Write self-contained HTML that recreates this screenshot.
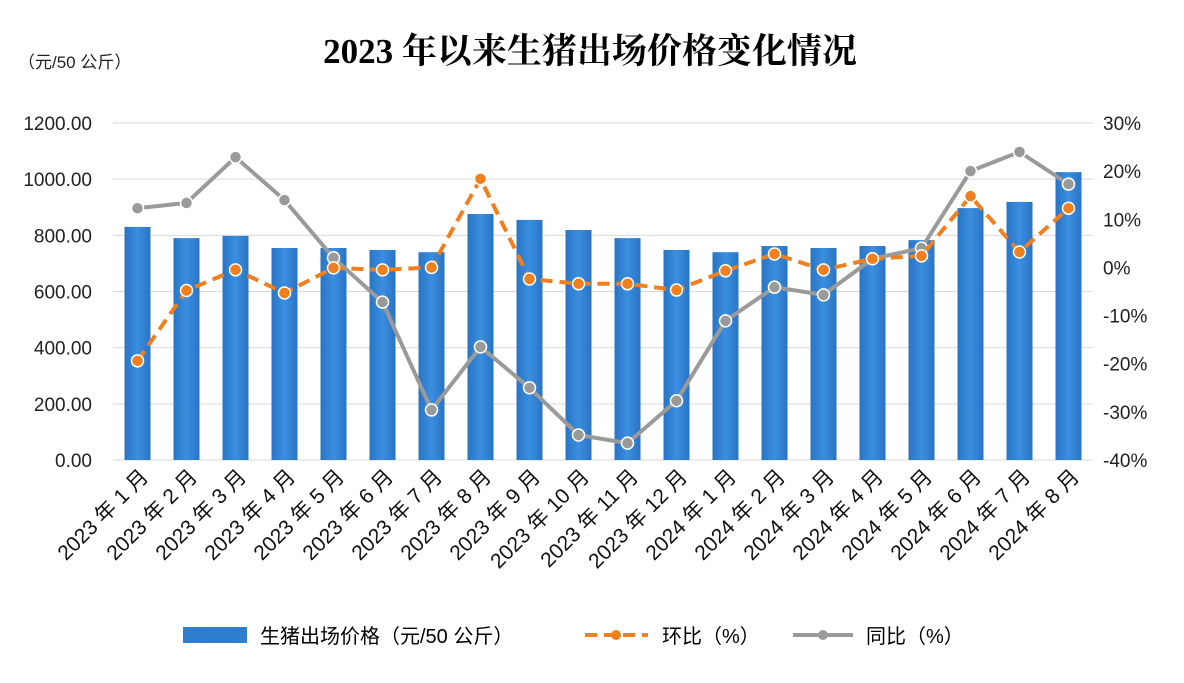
<!DOCTYPE html>
<html><head><meta charset="utf-8"><style>
body{margin:0;background:#fff;}
svg text{font-family:"Liberation Sans","Noto Sans CJK SC",sans-serif;}
</style></head><body>
<svg id="c" width="1184" height="678" xmlns="http://www.w3.org/2000/svg">
<defs><linearGradient id="bg" x1="0" x2="1" y1="0" y2="0"><stop offset="0" stop-color="#2a74c4"/><stop offset="0.5" stop-color="#3a8ee0"/><stop offset="1" stop-color="#2a74c4"/></linearGradient></defs>
<rect width="1184" height="678" fill="#fff"/>
<text x="590" y="63" text-anchor="middle" font-size="35" font-weight="bold" style="font-family:'Liberation Serif','Noto Serif CJK SC',serif">2023 年以来生猪出场价格变化情况</text>
<text x="18" y="68" font-size="17" fill="#222">（元/50 公斤）</text>
<g id="grid"></g><g id="bars"></g><g id="lines"></g><g id="axes"></g>
<g>
<rect x="183" y="627" width="64" height="16" fill="#2f7fd0"/>
<text x="260" y="643" font-size="20">生猪出场价格（元/50 公斤）</text>
<line x1="585" y1="635" x2="648" y2="635" stroke="#f07f1e" stroke-width="4" stroke-dasharray="12,7"/>
<circle cx="616" cy="635" r="5" fill="#f07f1e"/>
<text x="662" y="643" font-size="20">环比（%）</text>
<line x1="793" y1="635" x2="853" y2="635" stroke="#9a9a9a" stroke-width="4"/>
<circle cx="823" cy="635" r="5" fill="#9a9a9a"/>
<text x="866" y="643" font-size="20">同比（%）</text>
</g>
</svg>
<script>
const categories=["2023 年 1 月","2023 年 2 月","2023 年 3 月","2023 年 4 月","2023 年 5 月","2023 年 6 月","2023 年 7 月","2023 年 8 月","2023 年 9 月","2023 年 10 月","2023 年 11 月","2023 年 12 月","2024 年 1 月","2024 年 2 月","2024 年 3 月","2024 年 4 月","2024 年 5 月","2024 年 6 月","2024 年 7 月","2024 年 8 月"];
const priceValues=[830,790,798,755,755,748,740,876,855,819,790,748,740,762,755,762,783,897,919,1025];
const momValues=[-19.4,-4.8,-0.5,-5.3,-0.1,-0.5,0,18.4,-2.4,-3.4,-3.4,-4.7,-0.7,2.8,-0.5,1.8,2.4,14.8,3.2,12.3];
const yoyValues=[12.3,13.4,22.9,14,2,-7.2,-29.6,-16.5,-25,-34.8,-36.5,-27.7,-11.1,-4.1,-5.7,1.8,4,20,24,17.3];
const leftTicks=[0,200,400,600,800,1000,1200];
const rightTicks=[-40,-30,-20,-10,0,10,20,30];
const NS="http://www.w3.org/2000/svg";
const X0=113,X1=1093,Y0=460,Y1=123;
const step=(X1-X0)/categories.length;
const xPos=i=>X0+step*(i+0.5);
const yL=v=>Y0-(v/1200)*(Y0-Y1);
const yR=v=>Y0-((v+40)/70)*(Y0-Y1);
function mk(t,a,p){const e=document.createElementNS(NS,t);for(const k in a)e.setAttribute(k,a[k]);p.appendChild(e);return e;}
const grid=document.getElementById('grid'),bars=document.getElementById('bars'),lines=document.getElementById('lines'),axes=document.getElementById('axes');
leftTicks.forEach(v=>{
 const l=mk('line',{x1:X0,x2:X1,y1:yL(v),y2:yL(v),stroke:'#d9d9d9','stroke-width':1},grid);
 
 
 const t=mk('text',{x:92,y:yL(v)+7,'text-anchor':'end','font-size':19,fill:'#222'},axes);
 t.textContent=v.toFixed(2);
 
 
});
rightTicks.forEach(v=>{
 const t=mk('text',{x:1103,y:yR(v)+7,'font-size':19,fill:'#222'},axes);
 t.textContent=v+'%';
 
 
});
priceValues.forEach((v,i)=>{
 const r=mk('rect',{x:xPos(i)-13,y:yL(v),width:26,height:Y0-yL(v),fill:'url(#bg)'},bars);
 
 
});
categories.forEach((c,i)=>{
 const t=mk('text',{x:0,y:0,'text-anchor':'end','font-size':21,fill:'#111',transform:`translate(${xPos(i)+12},${478}) rotate(-45)`},axes);
 t.textContent=c;
 
 
});
function series(vals,color,dash,name){
 const pts=vals.map((v,i)=>xPos(i)+','+yR(v)).join(' ');
 const p=mk('polyline',{points:pts,fill:'none',stroke:color,'stroke-width':4,'stroke-linejoin':'round'},lines);
 if(dash)p.setAttribute('stroke-dasharray',dash);
 
 
 vals.forEach((v,i)=>{
  const c=mk('circle',{cx:xPos(i),cy:yR(v),r:6,fill:color,stroke:'#fff','stroke-width':1.5},lines);
  
  
 });
}
series(yoyValues,'#9a9a9a',null,'yoy');
series(momValues,'#f07f1e','12,7','mom');
</script>
</body></html>
